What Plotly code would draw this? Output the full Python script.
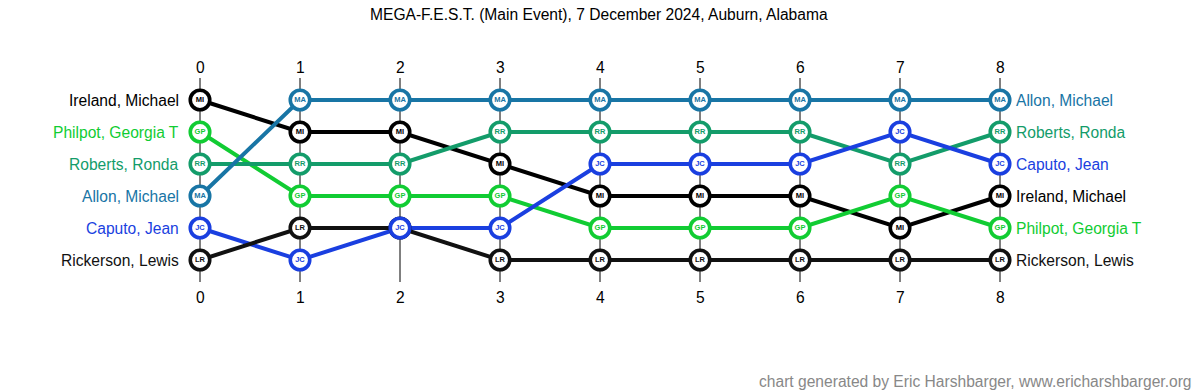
import plotly.graph_objects as go

rounds = [0, 1, 2, 3, 4, 5, 6, 7, 8]
players = ["Ireland, Michael", "Philpot, Georgia T", "Roberts, Ronda",
           "Allon, Michael", "Caputo, Jean", "Rickerson, Lewis"]
initials = ["MI", "GP", "RR", "MA", "JC", "LR"]
colors = ["#000000", "#11cc33", "#139c6a", "#1875a5", "#1a3fe0", "#111111"]

# rank (1 = top) of each player after each round
rank_MI = [1, 2, 2, 3, 4, 4, 4, 5, 4]
rank_GP = [2, 4, 4, 4, 5, 5, 5, 4, 5]
rank_RR = [3, 3, 3, 2, 2, 2, 2, 3, 2]
rank_MA = [4, 1, 1, 1, 1, 1, 1, 1, 1]
rank_JC = [5, 6, 5, 5, 3, 3, 3, 2, 3]
rank_LR = [6, 5, 5, 6, 6, 6, 6, 6, 6]
ranks = [rank_MI, rank_GP, rank_RR, rank_MA, rank_JC, rank_LR]

title = "MEGA-F.E.S.T. (Main Event), 7 December 2024, Auburn, Alabama"
credit = "chart generated by Eric Harshbarger, www.ericharshbarger.org"

W, H = 1200, 392
FONT = "Liberation Sans, Arial, sans-serif"
FS = 15.6

def py(px):
    # pixel y -> rank coordinate (rank 1 at 100px, 32px per rank)
    return (px - 100) / 32 + 1

def pxx(px):
    # pixel x -> round coordinate (round 0 at 200px, 100px per round)
    return (px - 200) / 100

fig = go.Figure()

# vertical guide lines
for r in rounds:
    fig.add_shape(type="line", x0=r, x1=r, y0=py(78), y1=py(282),
                  line=dict(color="black", width=1), layer="below")

# connecting lines
for i in range(len(players)):
    fig.add_trace(go.Scatter(x=rounds, y=ranks[i], mode="lines",
                             line=dict(color=colors[i], width=4),
                             hoverinfo="skip", showlegend=False))

# markers (draw LR before JC so JC shows on top where tied)
order = [5, 0, 1, 2, 3, 4]
for i in order:
    fig.add_trace(go.Scatter(
        x=rounds, y=ranks[i], mode="markers+text",
        marker=dict(size=19.5, color="white", line=dict(color=colors[i], width=3.6)),
        text=["<b>%s</b>" % initials[i]] * len(rounds),
        textposition="middle center",
        textfont=dict(size=7.5, color=colors[i], family=FONT),
        name=players[i], showlegend=False))

annotations = []
# player labels left and right
for i in range(len(players)):
    annotations.append(dict(x=pxx(181), y=ranks[i][0], text=players[i],
                            xanchor="right", yanchor="middle", showarrow=False,
                            font=dict(size=FS, color=colors[i], family=FONT)))
    annotations.append(dict(x=pxx(1014), y=ranks[i][-1], text=players[i],
                            xanchor="left", yanchor="middle", showarrow=False,
                            font=dict(size=FS, color=colors[i], family=FONT)))
# round numbers top and bottom
for r in rounds:
    annotations.append(dict(x=r, y=py(67), text=str(r), showarrow=False,
                            xanchor="center", yanchor="middle",
                            font=dict(size=FS, color="black", family=FONT)))
    annotations.append(dict(x=r, y=py(297), text=str(r), showarrow=False,
                            xanchor="center", yanchor="middle",
                            font=dict(size=FS, color="black", family=FONT)))
annotations.append(dict(x=599 / 1200, xref="paper", y=py(14), text=title, showarrow=False,
                        xanchor="center", yanchor="middle",
                        font=dict(size=FS, color="black", family=FONT)))
annotations.append(dict(x=1194 / 1200, xref="paper", y=py(381), text=credit,
                        showarrow=False, xanchor="right", yanchor="middle",
                        font=dict(size=FS, color="#888888", family=FONT)))

fig.update_layout(
    width=W, height=H,
    margin=dict(l=0, r=0, t=0, b=0),
    paper_bgcolor="white", plot_bgcolor="white",
    xaxis=dict(range=[pxx(0), pxx(W)], visible=False, fixedrange=True),
    yaxis=dict(range=[py(H), py(0)], visible=False, fixedrange=True),
    annotations=annotations,
    showlegend=False,
    hovermode=False,
)

fig.write_html("out.html", config={"displayModeBar": False},
               post_script="document.body.style.margin='0';document.body.style.overflow='hidden';")
